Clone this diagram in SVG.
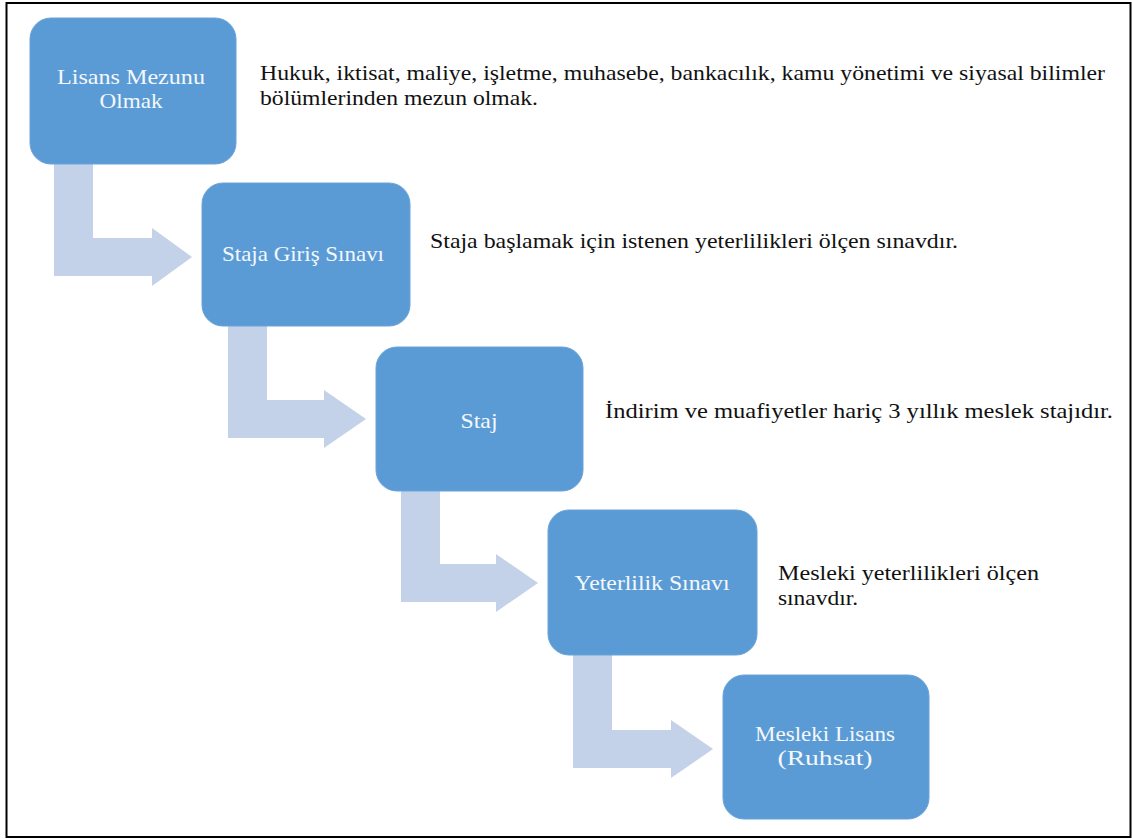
<svg xmlns="http://www.w3.org/2000/svg" width="1132" height="839" viewBox="0 0 1132 839">
  <style>
    .box { fill: #5b9bd5; stroke: #6aa3d8; stroke-width: 1; }
    .arrow { fill: #c3d2e8; }
    .lbl { font-family: 'Liberation Serif', 'DejaVu Serif', serif; font-size: 21px; fill: #f4f8fc; text-anchor: middle; }
    .desc { font-family: 'Liberation Serif', 'DejaVu Serif', serif; font-size: 21px; fill: #111111; }
  </style>
  <rect x="6.5" y="3" width="1124" height="834" fill="#ffffff" stroke="#000000" stroke-width="2"/>

  <!-- bent arrows between the steps -->
  <g id="connectors">
    <path class="arrow" d="M54,164 H93 V238 H152 V228 L192,257 L152,286 V276 H54 Z"/>
    <path class="arrow" d="M228,326 H267 V400 H324 V390 L366,419 L324,448 V438 H228 Z"/>
    <path class="arrow" d="M401,491 H440 V564 H496 V554 L538,583 L496,612 V602 H401 Z"/>
    <path class="arrow" d="M573,655 H612 V730 H671 V720 L713,749 L671,778 V768 H573 Z"/>
  </g>

  <g id="lisans-mezunu">
    <rect class="box" x="30" y="18" width="206" height="146" rx="21"/>
    <text class="lbl" x="131" y="84" textLength="148" lengthAdjust="spacingAndGlyphs">Lisans Mezunu</text>
    <text class="lbl" x="131" y="108" textLength="63" lengthAdjust="spacingAndGlyphs">Olmak</text>
  </g>
  <text class="desc" x="260" y="80" textLength="845" lengthAdjust="spacingAndGlyphs">Hukuk, iktisat, maliye, işletme, muhasebe, bankacılık, kamu yönetimi ve siyasal bilimler</text>
  <text class="desc" x="260" y="105" textLength="278" lengthAdjust="spacingAndGlyphs">bölümlerinden mezun olmak.</text>

  <g id="staja-giris-sinavi">
    <rect class="box" x="202" y="183" width="208" height="143" rx="21"/>
    <text class="lbl" x="303" y="261" textLength="162" lengthAdjust="spacingAndGlyphs">Staja Giriş Sınavı</text>
  </g>
  <text class="desc" x="430" y="248" textLength="528" lengthAdjust="spacingAndGlyphs">Staja başlamak için istenen yeterlilikleri ölçen sınavdır.</text>

  <g id="staj">
    <rect class="box" x="376" y="347" width="207" height="144" rx="21"/>
    <text class="lbl" x="479" y="428" textLength="37" lengthAdjust="spacingAndGlyphs">Staj</text>
  </g>
  <text class="desc" x="605" y="418" textLength="508" lengthAdjust="spacingAndGlyphs">İndirim ve muafiyetler hariç 3 yıllık meslek stajıdır.</text>

  <g id="yeterlilik-sinavi">
    <rect class="box" x="548" y="510" width="209" height="145" rx="21"/>
    <text class="lbl" x="652" y="590" textLength="155" lengthAdjust="spacingAndGlyphs">Yeterlilik Sınavı</text>
  </g>
  <text class="desc" x="778" y="580" textLength="261" lengthAdjust="spacingAndGlyphs">Mesleki yeterlilikleri ölçen</text>
  <text class="desc" x="778" y="605" textLength="80" lengthAdjust="spacingAndGlyphs">sınavdır.</text>

  <g id="mesleki-lisans">
    <rect class="box" x="723" y="675" width="206" height="144" rx="21"/>
    <text class="lbl" x="825" y="741" textLength="140" lengthAdjust="spacingAndGlyphs">Mesleki Lisans</text>
    <text class="lbl" x="825" y="765" textLength="95" lengthAdjust="spacingAndGlyphs">(Ruhsat)</text>
  </g>
</svg>
